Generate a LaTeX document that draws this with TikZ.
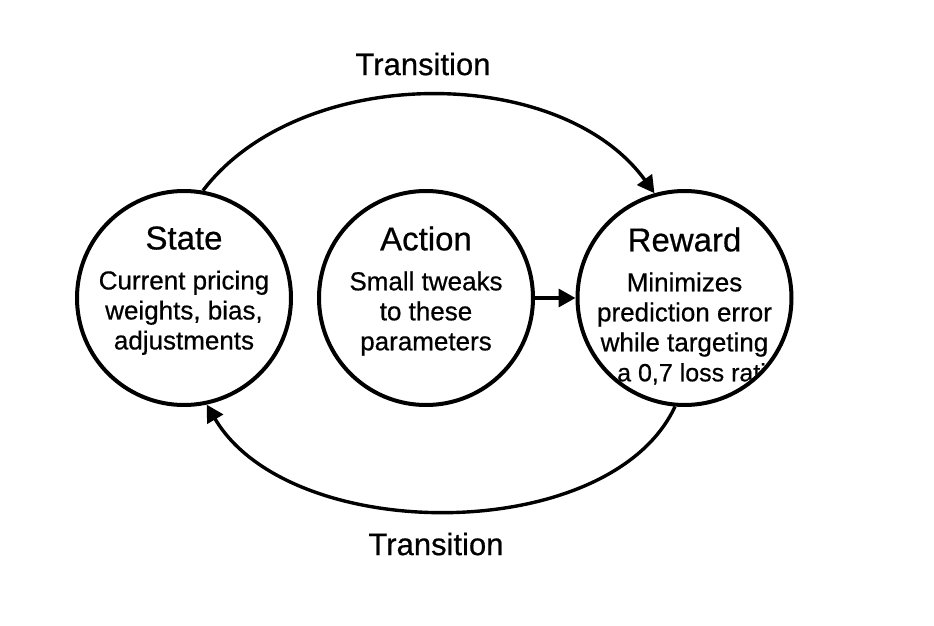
\documentclass[tikz,border=0pt]{standalone}
\usepackage{fontspec}
\setmainfont{Liberation Sans}[FakeBold=0.6]
\usetikzlibrary{arrows.meta}

\begin{document}
\begin{tikzpicture}[x=0.5pt,y=-0.5pt,
    stage/.style={draw,line width=2pt,shape=circle,minimum size=107pt,inner sep=0pt},
    stagetext/.style={anchor=north,align=center,inner sep=0pt,font=\fontsize{13}{15}\selectfont},
    flow/.style={line width=1.7pt,-{Triangle[length=8.5pt,width=9pt]}},
    flowlabel/.style={font=\fontsize{15.5}{18}\selectfont}]
      \useasboundingbox (0,0) rectangle (934,626);
      \node[stage] (state) at (184,298) {};
      \node[stage] (action) at (426,298) {};
      \node[stage] (reward) at (684.5,298) {};
      \node[stagetext] (statetext) at (184,226) {{\fontsize{16.5}{20}\selectfont State}\\[5pt]Current pricing\\weights, bias,\\adjustments};
      \node[stagetext] (actiontext) at (426,226) {{\fontsize{16.5}{20}\selectfont Action}\\[5pt]Small tweaks\\to these\\parameters};
      \begin{scope}
        \clip (reward.center) circle[radius=52.5pt];
        \node[stagetext] (rewardtext) at (684.5,227) {{\fontsize{16.5}{20}\selectfont Reward}\\[5pt]Minimizes\\prediction error\\while targeting\\\hspace*{14pt}{\fontsize{12.5}{15}\selectfont a 0,7 loss ratio}};
      \end{scope}
      \draw[flow] (action) -- (reward);
      \draw[flow] (state.80) .. controls (300,63) and (560,63) .. (reward.106);
      \draw[flow] (reward.265) .. controls (610,546) and (290,546) .. (state.282);
      \node[flowlabel] (toptransition) at (423,64) {Transition};
      \node[flowlabel] (bottomtransition) at (436,544) {Transition};
\end{tikzpicture}
\end{document}
